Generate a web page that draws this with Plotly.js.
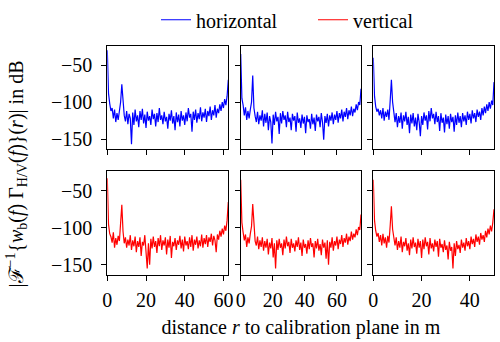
<!DOCTYPE html>
<html>
<head>
<meta charset="utf-8">
<script src="https://cdn.plot.ly/plotly-3.0.1.min.js"></script>
<style>
  html, body { margin: 0; padding: 0; background: #fff; }
  #chart { width: 500px; height: 342px; }
</style>
</head>
<body>
<div id="chart"></div>
<script>
// range bin spacing (m) of each measurement column
const binStep = [0.625, 0.75, 0.5];
const xRanges = [[0, 62.5], [0, 75], [0, 50]];
const xTicks = [[0, 20, 40, 60], [0, 20, 40, 60], [0, 20, 40]];
const yTicks = [-150, -100, -50];

// horizontal polarisation, dB
const horiz1 = [-30,-88,-102,-112,-108,-122,-110,-127,-115,-124,-112,-100,-76,-104,-118,-126,-112,-130,-116,-122,
  -157,-114,-131,-110,-126,-118,-134,-112,-124,-109,-129,-117,-135,-113,-125,-119,-131,-110,-123,-116,
  -133,-115,-127,-108,-124,-118,-130,-113,-126,-120,-136,-116,-125,-111,-129,-119,-138,-114,-127,-117,
  -133,-112,-125,-118,-131,-114,-126,-108,-121,-116,-140,-113,-124,-110,-128,-115,-123,-107,-126,-114,
  -121,-109,-127,-112,-119,-106,-124,-111,-118,-104,-121,-109,-115,-103,-112,-100,-108,-96,-104,-92,-70];
const horiz2 = [-35,-95,-104,-118,-107,-124,-112,-122,-110,-100,-64,-108,-119,-127,-113,-130,-118,-125,-111,-133,
  -116,-128,-114,-138,-119,-127,-156,-117,-131,-113,-126,-120,-143,-115,-129,-112,-124,-118,-134,-113,
  -127,-121,-138,-116,-125,-119,-140,-114,-128,-122,-135,-117,-129,-120,-142,-118,-127,-123,-136,-116,
  -130,-121,-139,-117,-126,-120,-134,-115,-127,-151,-119,-128,-116,-133,-118,-125,-114,-130,-117,-124,
  -112,-128,-115,-122,-110,-126,-113,-120,-108,-123,-111,-118,-106,-119,-109,-114,-103,-111,-100,-104,-82];
const horiz3 = [-40,-92,-106,-113,-109,-118,-111,-122,-108,-125,-113,-120,-110,-124,-98,-70,-100,-112,-127,-115,
  -134,-119,-128,-114,-136,-118,-126,-113,-131,-120,-142,-117,-129,-115,-133,-121,-138,-116,-127,-146,
  -119,-131,-114,-125,-118,-137,-112,-126,-108,-122,-116,-130,-113,-127,-119,-139,-115,-128,-121,-141,
  -117,-130,-119,-136,-116,-127,-120,-140,-118,-131,-114,-128,-119,-134,-115,-126,-118,-131,-113,-124,
  -116,-129,-111,-122,-115,-127,-110,-120,-113,-124,-108,-118,-106,-115,-103,-112,-100,-109,-98,-104,-73];

// vertical polarisation, dB
const vert1 = [-33,-95,-108,-112,-120,-106,-127,-114,-123,-111,-118,-98,-69,-105,-121,-113,-127,-116,-124,-110,
  -130,-117,-125,-112,-133,-118,-126,-113,-138,-119,-124,-110,-129,-155,-121,-150,-115,-128,-112,-126,
  -118,-134,-114,-125,-110,-130,-117,-124,-113,-136,-116,-127,-111,-141,-119,-125,-114,-130,-117,-123,
  -111,-128,-116,-132,-112,-124,-118,-129,-113,-126,-110,-131,-116,-123,-112,-128,-117,-125,-109,-127,
  -114,-122,-110,-126,-113,-119,-108,-124,-111,-117,-133,-109,-116,-104,-112,-101,-109,-97,-104,-90,-65];
const vert2 = [-35,-93,-106,-117,-109,-126,-113,-121,-108,-98,-68,-104,-118,-124,-112,-129,-117,-126,-113,-131,
  -118,-127,-115,-136,-120,-128,-114,-140,-121,-155,-117,-130,-115,-127,-121,-137,-116,-128,-112,-125,
  -119,-134,-115,-127,-121,-132,-117,-126,-113,-130,-120,-138,-116,-127,-122,-135,-117,-129,-114,-126,
  -121,-140,-118,-128,-115,-131,-122,-137,-116,-127,-120,-142,-117,-150,-119,-127,-113,-131,-118,-124,
  -112,-129,-116,-122,-110,-126,-114,-120,-108,-123,-112,-118,-105,-116,-108,-113,-102,-110,-99,-103,-82];
const vert3 = [-35,-90,-104,-112,-107,-119,-110,-124,-108,-121,-113,-127,-111,-120,-97,-71,-102,-115,-124,-113,
  -130,-118,-127,-112,-133,-119,-125,-114,-131,-121,-137,-116,-128,-113,-126,-120,-135,-115,-127,-118,
  -141,-116,-129,-113,-125,-119,-136,-114,-128,-121,-132,-116,-126,-118,-139,-115,-127,-122,-133,-117,
  -130,-124,-143,-119,-131,-126,-155,-121,-138,-118,-129,-123,-134,-116,-127,-120,-131,-114,-125,-118,
  -129,-112,-122,-115,-126,-109,-119,-112,-123,-107,-116,-110,-119,-104,-113,-101,-109,-97,-105,-93,-75];

const rows = [
  { name: 'horizontal', color: '#0000ff', series: [horiz1, horiz2, horiz3] },
  { name: 'vertical', color: '#ff0000', series: [vert1, vert2, vert3] }
];

const colDomains = [[0.2146, 0.4566], [0.4814, 0.722], [0.7466, 0.988]];
const rowDomains = [[0.576, 0.885], [0.2009, 0.5096]];
const yRange = [-163.5, -23.5];

const data = [];
const layout = {
  width: 500,
  height: 342,
  margin: { l: 0, r: 0, t: 0, b: 0 },
  paper_bgcolor: '#fff',
  plot_bgcolor: '#fff',
  font: { family: 'Liberation Serif, DejaVu Serif, serif', size: 20, color: '#000' },
  showlegend: true,
  legend: {
    orientation: 'h',
    x: 0.312,
    xanchor: 'left',
    y: 0.962,
    yanchor: 'middle',
    bgcolor: 'rgba(0,0,0,0)',
    entrywidth: 112,
    entrywidthmode: 'pixels',
    font: { size: 20 }
  },
  annotations: [{
    text: '|ℱ<sup>−1</sup>{<i>w</i><sub>b</sub>(<i>f</i>) Γ<sub>H/V</sub>(<i>f</i>)}(<i>r</i>)| in dB',
    xref: 'paper', yref: 'paper',
    x: 0.032, y: 0.5,
    xanchor: 'center', yanchor: 'middle',
    textangle: -90,
    showarrow: false,
    font: { size: 20 }
  }]
};

const axisStyle = {
  showline: true,
  mirror: true,
  linecolor: '#000',
  linewidth: 1,
  ticks: 'outside',
  ticklen: 5,
  tickwidth: 1,
  tickcolor: '#000',
  showgrid: false,
  zeroline: false,
  fixedrange: true
};

rows.forEach((row, r) => {
  row.series.forEach((ys, c) => {
    const n = r * 3 + c + 1;
    const xs = ys.map((_, i) => i * binStep[c]);
    data.push({
      x: xs,
      y: ys,
      type: 'scatter',
      mode: 'lines',
      name: row.name,
      legendgroup: row.name,
      showlegend: c === 0,
      line: { color: row.color, width: 1.2 },
      xaxis: 'x' + n,
      yaxis: 'y' + n
    });
    const xa = Object.assign({}, axisStyle, {
      domain: colDomains[c],
      range: xRanges[c],
      tickvals: xTicks[c],
      showticklabels: r === 1,
      ticklabelstandoff: 2,
      anchor: 'y' + n
    });
    if (r === 1 && c === 1) {
      xa.title = { text: 'distance <i>r</i> to calibration plane in m', font: { size: 20 }, standoff: 10 };
    }
    const ya = Object.assign({}, axisStyle, {
      domain: rowDomains[r],
      range: yRange,
      tickvals: yTicks,
      ticktext: yTicks.map(v => '−' + Math.abs(v)),
      showticklabels: c === 0,
      ticklabelstandoff: 5,
      anchor: 'x' + n
    });
    layout['xaxis' + n] = xa;
    layout['yaxis' + n] = ya;
  });
});

Plotly.newPlot('chart', data, layout, { displayModeBar: false, staticPlot: true });
</script>
</body>
</html>
